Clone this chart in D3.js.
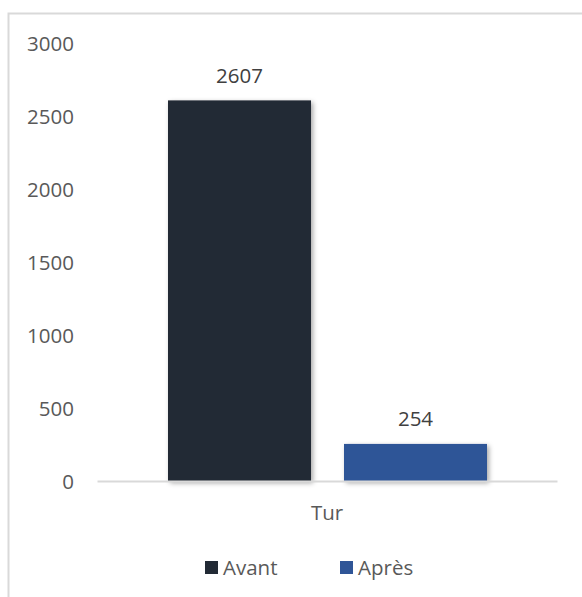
<!DOCTYPE html>
<html>
<head>
<meta charset="utf-8">
<script src="https://cdn.jsdelivr.net/npm/d3@7"></script>
<style>
  html, body { margin: 0; padding: 0; background: #fff; }
  svg text { font-family: "Open Sans", "Noto Sans", sans-serif; fill: #595959; }
</style>
</head>
<body>
<svg id="chart" width="582" height="597"></svg>
<script>
// Chart data
const categories = ["Tur"];
const seriesNames = ["Avant", "Après"];
const avantValues = [2607];
const apresValues = [254];
const yTicks = [0, 500, 1000, 1500, 2000, 2500, 3000];
const seriesColors = ["#222A35", "#2F5597"];

const FONT = '"Open Sans", "Noto Sans", sans-serif';
const FS = "20.5px";

const svg = d3.select("#chart");

// Outer frame
svg.append("rect")
  .attr("x", 8.5).attr("y", 13.5)
  .attr("width", 580).attr("height", 600)
  .attr("fill", "none").attr("stroke", "#D9D9D9").attr("stroke-width", 2);

// Soft shadow used by the bars
const defs = svg.append("defs");
const f = defs.append("filter").attr("id", "barShadow")
  .attr("x", "-10%").attr("y", "-10%").attr("width", "130%").attr("height", "130%");
f.append("feDropShadow").attr("dx", 2).attr("dy", 2).attr("stdDeviation", 2.5)
  .attr("flood-color", "#000").attr("flood-opacity", 0.35);

const plot = { left: 97, right: 557, top: 43, bottom: 481 };

const y = d3.scaleLinear().domain([0, 3000]).range([plot.bottom, plot.top]);
const x0 = d3.scaleBand().domain(categories).range([plot.left, plot.right]).padding(0);
const x1 = d3.scaleBand().domain(seriesNames)
  .range([71, 390]).paddingInner(0.1875).paddingOuter(0);

const rows = categories.map((c, i) => ({
  cat: c,
  values: [
    { name: seriesNames[0], value: avantValues[i] },
    { name: seriesNames[1], value: apresValues[i] }
  ]
}));

// Y axis labels (no axis line)
const yAxis = d3.axisLeft(y).tickValues(yTicks).tickFormat(d3.format("d"))
  .tickSize(0).tickPadding(0);
const yg = svg.append("g").attr("transform", "translate(74,0)").call(yAxis);
yg.select(".domain").remove();
yg.selectAll("text")
  .style("font-family", FONT)
  .style("font-size", FS).attr("fill", "#595959").attr("dy", "0.35em");

// Bars
const groups = svg.selectAll(".cat").data(rows).join("g")
  .attr("class", "cat")
  .attr("transform", d => `translate(${x0(d.cat)},0)`);

groups.selectAll("rect.bar").data(d => d.values).join("rect")
  .attr("class", "bar")
  .attr("x", d => x1(d.name))
  .attr("width", x1.bandwidth())
  .attr("y", d => y(d.value))
  .attr("height", d => y(0) - y(d.value))
  .attr("fill", (d, i) => seriesColors[i])
  .attr("filter", "url(#barShadow)");

// Value labels
groups.selectAll("text.val").data(d => d.values).join("text")
  .attr("class", "val")
  .attr("x", d => x1(d.name) + x1.bandwidth() / 2)
  .attr("y", d => y(d.value) - 25)
  .attr("text-anchor", "middle")
  .attr("dy", "0.35em")
  .style("font-size", FS)
  .style("fill", "#404040")
  .text(d => d.value);

// Category axis
const xAxis = d3.axisBottom(x0).tickSize(0).tickPadding(0);
const xg = svg.append("g").attr("transform", `translate(0,${plot.bottom})`).call(xAxis);
xg.select(".domain").attr("stroke", "#D9D9D9").attr("stroke-width", 2);
xg.selectAll("text")
  .style("font-family", FONT)
  .style("font-size", FS).attr("fill", "#595959")
  .attr("y", 32).attr("dy", "0.35em");

// Legend
const legendX = [205, 340];
const legend = svg.selectAll(".leg").data(seriesNames).join("g")
  .attr("class", "leg")
  .attr("transform", (d, i) => `translate(${legendX[i]},561)`);
legend.append("rect").attr("width", 13).attr("height", 13)
  .attr("fill", (d, i) => seriesColors[i]);
legend.append("text").attr("x", 18).attr("y", 7).attr("dy", "0.35em")
  .style("font-size", FS).text(d => d);
</script>
</body>
</html>
